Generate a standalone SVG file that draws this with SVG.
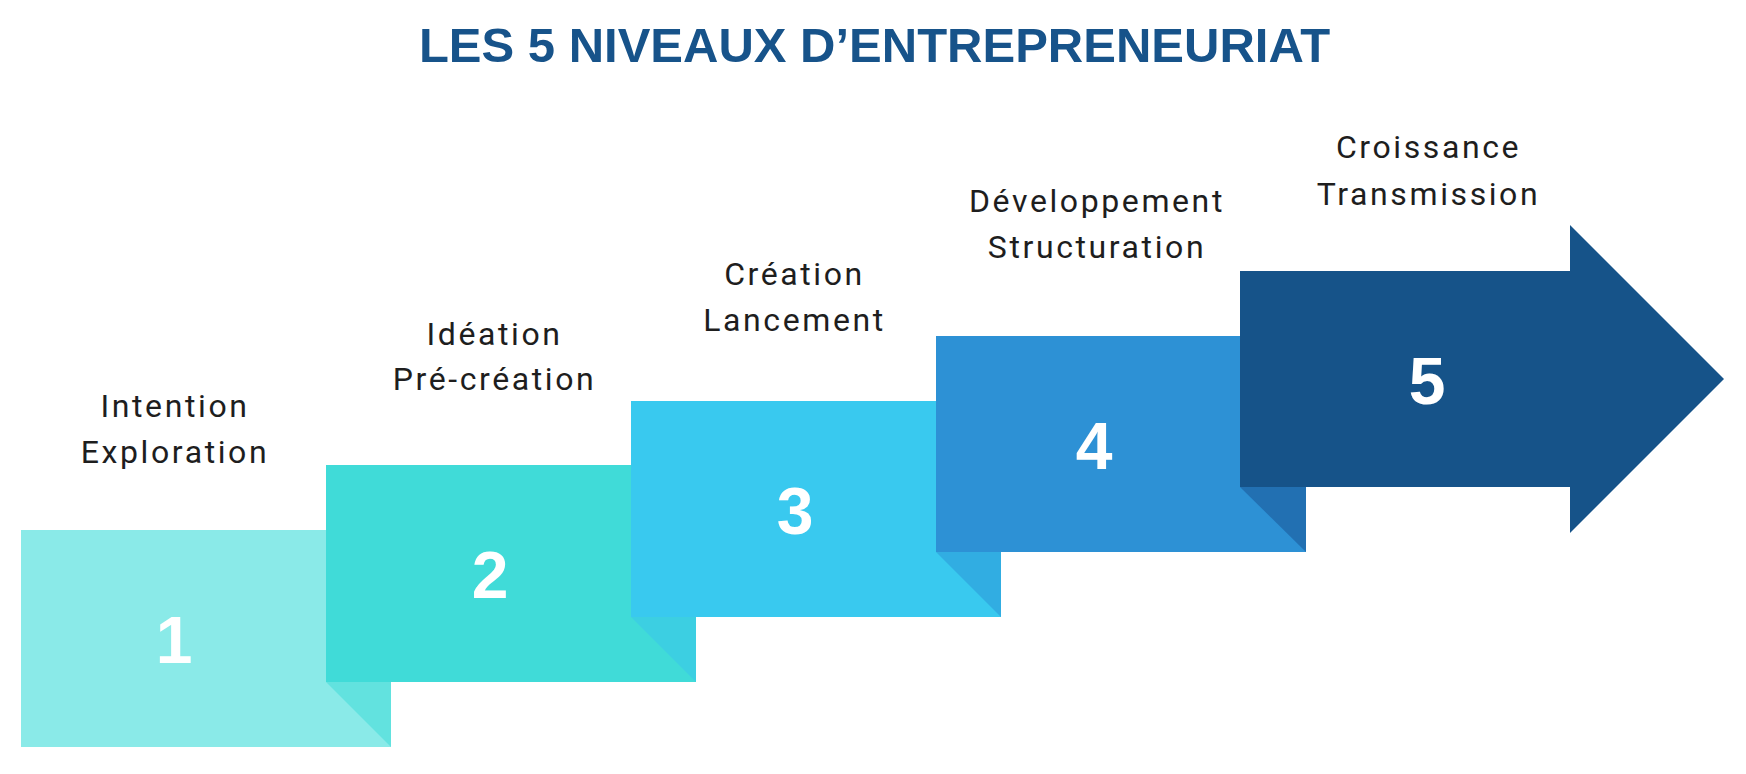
<svg xmlns="http://www.w3.org/2000/svg" width="1746" height="774" viewBox="0 0 1746 774">
  <style>
    .title { font-family: "Liberation Sans", Arial, sans-serif; font-weight: bold; font-size: 49px; fill: #17538a; }
    .lbl { font-family: Roboto, "Liberation Sans", sans-serif; font-size: 32px; letter-spacing: 2.6px; fill: #1e1e1e; text-anchor: middle; }
    .num { font-family: "Liberation Sans", Arial, sans-serif; font-weight: bold; font-size: 66px; fill: #ffffff; text-anchor: middle; }
  </style>
  <rect x="0" y="0" width="1746" height="774" fill="#ffffff"/>
  <text id="title" class="title" x="874.5" y="62" text-anchor="middle">LES 5 NIVEAUX D’ENTREPRENEURIAT</text>

  <g id="step1">
    <rect x="21" y="530" width="370" height="217" fill="#8aeae8"/>
    <polygon points="326,682 391,682 391,747" fill="#62e2df"/>
    <text class="num" x="174" y="663">1</text>
    <text class="lbl" x="175" y="417">Intention</text>
    <text class="lbl" x="175" y="463">Exploration</text>
  </g>

  <g id="step2">
    <rect x="326" y="465" width="370" height="217" fill="#40dbd8"/>
    <polygon points="631,617 696,617 696,682" fill="#3ccfe2"/>
    <text class="num" x="490" y="598">2</text>
    <text class="lbl" x="494.5" y="345">Idéation</text>
    <text class="lbl" x="494.5" y="390">Pré-création</text>
  </g>

  <g id="step3">
    <rect x="631" y="401" width="370" height="216" fill="#39c9ef"/>
    <polygon points="936,552 1001,552 1001,617" fill="#31ade2"/>
    <text class="num" x="795" y="534">3</text>
    <text class="lbl" x="794.5" y="285">Création</text>
    <text class="lbl" x="794.5" y="331">Lancement</text>
  </g>

  <g id="step4">
    <rect x="936" y="336" width="370" height="216" fill="#2d91d5"/>
    <polygon points="1240,487 1306,487 1306,552" fill="#2270b2"/>
    <text class="num" x="1094" y="469">4</text>
    <text class="lbl" x="1097" y="212">Développement</text>
    <text class="lbl" x="1097" y="258">Structuration</text>
  </g>

  <g id="step5">
    <polygon points="1240,271 1570,271 1570,225 1724,379 1570,533 1570,487 1240,487" fill="#165389"/>
    <text class="num" x="1427" y="404">5</text>
    <text class="lbl" x="1428.5" y="158">Croissance</text>
    <text class="lbl" x="1428.5" y="205">Transmission</text>
  </g>

  <g id="connectors"></g>
</svg>
